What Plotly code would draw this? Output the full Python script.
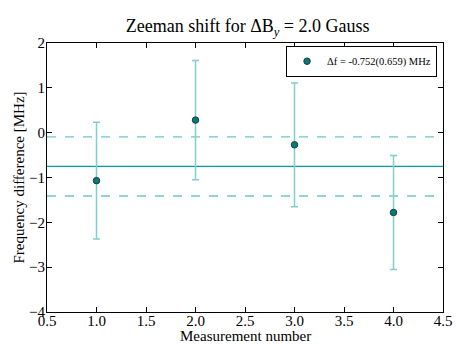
import plotly.graph_objects as go

# Measurements of the Zeeman frequency shift
measurement = [1.0, 2.0, 3.0, 4.0]
freq_diff = [-1.07, 0.28, -0.27, -1.78]
freq_err = [1.30, 1.33, 1.38, 1.27]

mean_shift = -0.752
mean_err = 0.659

x_ticks = [0.5, 1.0, 1.5, 2.0, 2.5, 3.0, 3.5, 4.0, 4.5]
y_ticks = [-4, -3, -2, -1, 0, 1, 2]

FONT = "Liberation Serif"
x_range = [0.5, 4.5]

fig = go.Figure()

# weighted mean and its uncertainty band
fig.add_trace(go.Scatter(
    x=x_range, y=[mean_shift, mean_shift], mode="lines",
    line=dict(color="#00a0a0", width=1.3), showlegend=False, hoverinfo="skip"))
for s in (1, -1):
    v = mean_shift + s * mean_err
    fig.add_trace(go.Scatter(
        x=x_range, y=[v, v], mode="lines",
        line=dict(color="#6cc6c6", width=1.4, dash="dash"),
        showlegend=False, hoverinfo="skip"))

fig.add_trace(go.Scatter(
    x=measurement, y=freq_diff, mode="markers",
    name=f"Δf = {mean_shift:.3f}({mean_err:.3f}) MHz",
    marker=dict(color="#007b7b", size=6.5, line=dict(color="#1f3c3c", width=1)),
    error_y=dict(type="data", array=freq_err, visible=True,
                 color="#80cfcf", thickness=1.5, width=3.5)))

axis_common = dict(
    showgrid=False, zeroline=False, showline=True, linecolor="black", linewidth=1,
    mirror="ticks", ticks="inside", ticklen=5, tickcolor="black", automargin=False,
    tickfont=dict(family=FONT, size=15, color="black"))

fig.update_xaxes(range=x_range, tickvals=x_ticks,
                 ticktext=[f"{v:.1f}" for v in x_ticks],
                 ticklabelstandoff=-5, **axis_common)
fig.update_yaxes(range=[-4, 2], tickvals=y_ticks,
                 ticklabelstandoff=-2, **axis_common)

title_font = dict(family=FONT, size=15, color="black")
fig.add_annotation(text="Measurement number", xref="paper", yref="paper",
                   x=0.5, y=-0.089, xanchor="center", yanchor="middle",
                   showarrow=False, font=title_font)
fig.add_annotation(text="Frequency difference [MHz]", xref="paper", yref="paper",
                   x=-0.073, y=0.5, xanchor="center", yanchor="middle",
                   textangle=-90, showarrow=False, font=title_font)

fig.update_layout(
    width=456, height=345,
    margin=dict(l=47, r=13, t=43, b=33),
    paper_bgcolor="white", plot_bgcolor="white",
    title=dict(text="Zeeman shift for ΔB<sub><i>y</i></sub> = 2.0 Gauss",
               x=0.543, xanchor="center", y=0.925, yanchor="middle",
               font=dict(family=FONT, size=18, color="black")),
    legend=dict(x=0.985, y=0.99, xanchor="right", yanchor="top",
                bgcolor="white", bordercolor="black", borderwidth=1,
                font=dict(family=FONT, size=10.5, color="black"),
                itemwidth=30, tracegroupgap=0),
    font=dict(family=FONT, color="black"),
)

fig.write_html("out.html")
